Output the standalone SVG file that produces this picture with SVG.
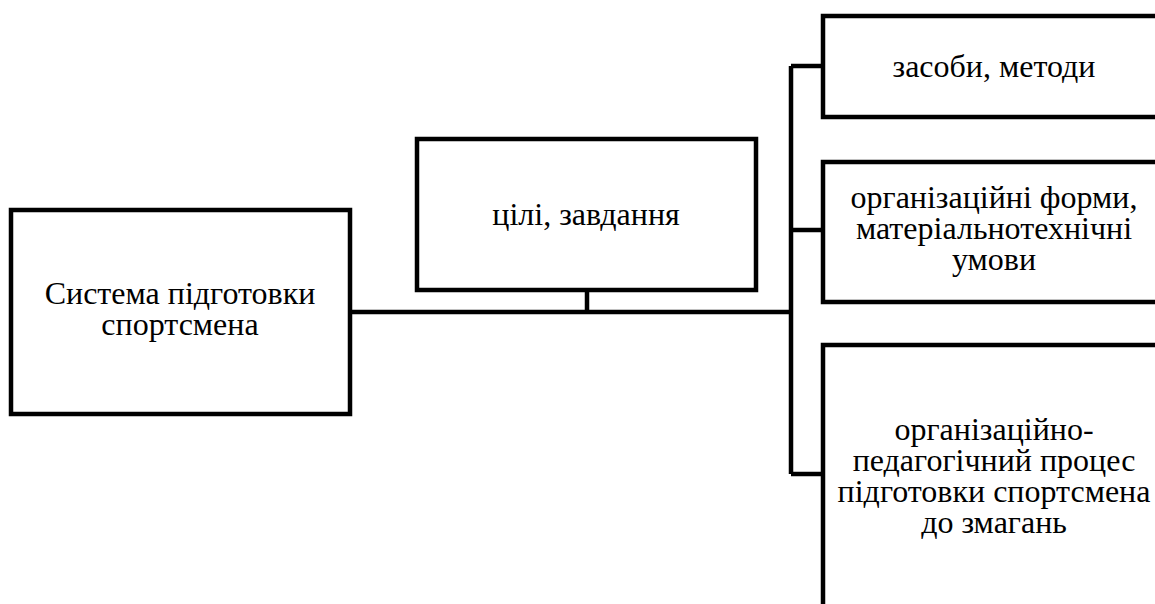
<svg xmlns="http://www.w3.org/2000/svg" width="1155" height="604" viewBox="0 0 1155 604">
  <style>
    .box { fill: #ffffff; stroke: #000000; stroke-width: 4.5; }
    .wire { fill: none; stroke: #000000; stroke-width: 4.5; }
    .lbl { font-family: 'Liberation Serif', 'Times New Roman', 'DejaVu Serif', serif; font-size: 32px; fill: #000000; text-anchor: middle; }
  </style>
  <rect width="1155" height="604" fill="#ffffff"/>

  <!-- connectors: main horizontal bus, stem from the goals box, and the right-hand trunk with its three branches -->
  <g id="connectors">
    <path class="wire" d="M350 312 H791"/>
    <path class="wire" d="M587 290 V312"/>
    <path class="wire" d="M791 66 V474"/>
    <path class="wire" d="M791 66 H823"/>
    <path class="wire" d="M791 230 H823"/>
    <path class="wire" d="M791 474 H823"/>
  </g>

  <g id="node-system">
    <rect class="box" x="11" y="210" width="339" height="204"/>
    <text class="lbl" x="180" y="304">Система підготовки</text>
    <text class="lbl" x="180" y="335">спортсмена</text>
  </g>

  <g id="node-goals">
    <rect class="box" x="417" y="139" width="339" height="151"/>
    <text class="lbl" x="586" y="225">цілі, завдання</text>
  </g>

  <g id="node-means">
    <rect class="box" x="823" y="16" width="342" height="101"/>
    <text class="lbl" x="994" y="77">засоби, методи</text>
  </g>

  <g id="node-forms">
    <rect class="box" x="823" y="162" width="342" height="140"/>
    <text class="lbl" x="994" y="208">організаційні форми,</text>
    <text class="lbl" x="994" y="239">матеріальнотехнічні</text>
    <text class="lbl" x="994" y="270">умови</text>
  </g>

  <g id="node-process">
    <rect class="box" x="823" y="345" width="342" height="280"/>
    <text class="lbl" x="994" y="440">організаційно-</text>
    <text class="lbl" x="994" y="471">педагогічний процес</text>
    <text class="lbl" x="994" y="502">підготовки спортсмена</text>
    <text class="lbl" x="994" y="533">до змагань</text>
  </g>
</svg>
